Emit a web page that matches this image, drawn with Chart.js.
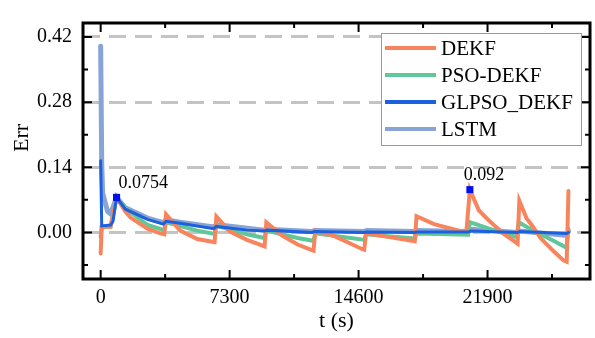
<!DOCTYPE html>
<html>
<head>
<meta charset="utf-8">
<title>Err vs t</title>
<style>
  html, body { margin: 0; padding: 0; background: #fff; }
  #wrap { width: 595px; height: 338px; }
</style>
</head>
<body>
<div id="wrap"><canvas id="errCanvas" width="595" height="338"></canvas></div>
<script src="https://cdn.jsdelivr.net/npm/chart.js@4.4.0/dist/chart.umd.min.js"></script>
<script>
// series names + colours (legend order)
const seriesNames = ['DEKF', 'PSO-DEKF', 'GLPSO_DEKF', 'LSTM'];
const seriesColors = ['#F8845E', '#5FC798', '#1B60DD', '#88A4D7'];

// DEKF
const tDEKF = [0, 60, 560, 900, 1400, 1690, 2650, 3380, 3600,
  3700, 4500, 5470, 6310, 6450,
  6550, 7320, 8280, 9130, 9280,
  9380, 10250, 11150, 11950, 12050,
  12150, 13240, 14370, 14820, 14920,
  15020, 16340, 17630, 17780,
  17880, 18870, 20280, 20700,
  20900, 21400, 21860, 22370, 22820, 23380, 23600,
  23700, 24110, 24400, 24900, 25630, 26200, 26380,
  26480];
const eDEKF = [-0.045, 0.012, 0.012, 0.0754, 0.045, 0.032, 0.008, -0.002, -0.004,
  0.039, 0.004, -0.014, -0.020, -0.021,
  0.034, 0.002, -0.016, -0.028, -0.030,
  0.022, -0.006, -0.026, -0.038, -0.039,
  0.004, -0.008, -0.028, -0.036, -0.037,
  -0.002, -0.010, -0.018, -0.019,
  0.035, 0.018, 0.004, 0.001,
  0.092, 0.048, 0.030, 0.012, -0.003, -0.018, -0.024,
  0.068, 0.030, 0.016, -0.012, -0.040, -0.060, -0.063,
  0.089];

// PSO-DEKF
const tPSO = [0, 60, 560, 900, 1400, 2650, 3600,
  3700, 5470, 6450,
  6550, 8280, 9280,
  9380, 11150, 12050,
  12150, 14370, 14920,
  15020, 17780,
  17880, 20800,
  20900, 21860, 22820, 23550,
  23660, 24400, 25630, 26380,
  26480];
const ePSO = [-0.01, 0.012, 0.012, 0.0754, 0.052, 0.016, 0.005,
  0.022, 0.004, -0.003,
  0.014, -0.004, -0.012,
  0.004, -0.012, -0.018,
  -0.002, -0.013, -0.016,
  -0.004, -0.013,
  -0.002, -0.005,
  0.022, 0.010, -0.002, -0.010,
  0.022, 0.006, -0.018, -0.033,
  0.008];

// GLPSO_DEKF
const tGL = [0, 60, 560, 700, 900, 1400, 2650, 3550, 3700, 4500, 6400, 6550, 8280, 9280, 9400,
  11950, 12100, 14900, 15050, 17780, 17900, 20800, 20950, 23600, 23700, 26380, 26480];
const eGL = [0.154, 0.014, 0.016, 0.024, 0.0754, 0.050, 0.028, 0.018, 0.024, 0.020, 0.008, 0.013, 0.005, 0.003, 0.005,
  0.000, 0.002, 0.000, 0.001, 0.000, 0.001, 0.001, 0.003, 0.000, 0.002, -0.002, 0.000];

// LSTM
const tLSTM = [0, 60, 110, 280, 400, 560, 900, 1400, 2650, 3550, 3700, 4500, 6400, 6550, 8280, 9280, 9400,
  11950, 12100, 14900, 15050, 17780, 17900, 20800, 20950, 23600, 23700, 26380, 26480];
const eLSTM = [0.40, 0.15, 0.085, 0.06, 0.045, 0.040, 0.0754, 0.053, 0.031, 0.021, 0.027, 0.022, 0.012, 0.017, 0.009, 0.005, 0.007,
  0.002, 0.004, 0.002, 0.004, 0.002, 0.004, 0.002, 0.007, 0.000, 0.003, -0.006, 0.002];

// marked points
const markT = [900, 20900];
const markV = [0.0754, 0.092];
const markText = ['0.0754', '0.092'];

// ticks
const xTicks = [0, 3650, 7300, 10950, 14600, 18250, 21900, 25550];
const xLabels = [0, 7300, 14600, 21900];
const yTicks = [-0.07, 0, 0.07, 0.14, 0.21, 0.28, 0.35, 0.42];
const yLabels = [0, 0.14, 0.28, 0.42];

const serif = 'Liberation Serif';
const isYLabel = v => yLabels.some(l => Math.abs(l - v) < 1e-9);

function pts(ts, vs) { return ts.map((t, i) => ({x: t, y: vs[i]})); }

const framePlugin = {
  id: 'frame',
  afterDatasetsDraw(chart) {
    const {ctx, chartArea: a, scales: {x, y}} = chart;
    ctx.save();
    ctx.strokeStyle = '#000';
    ctx.lineWidth = 2;
    ctx.beginPath();
    x.ticks.forEach(t => {
      const px = x.getPixelForValue(t.value);
      const len = xLabels.includes(t.value) ? 9 : 5;
      ctx.moveTo(px, a.bottom); ctx.lineTo(px, a.bottom - len);
      ctx.moveTo(px, a.top); ctx.lineTo(px, a.top + len);
    });
    y.ticks.forEach(t => {
      const py = y.getPixelForValue(t.value);
      const len = isYLabel(t.value) ? 9 : 5;
      ctx.moveTo(a.left, py); ctx.lineTo(a.left + len, py);
      ctx.moveTo(a.right, py); ctx.lineTo(a.right - len, py);
    });
    ctx.stroke();
    ctx.lineWidth = 3;
    ctx.strokeRect(a.left, a.top, a.right - a.left, a.bottom - a.top);
    ctx.restore();
  },
  afterDraw(chart) {
    const {ctx, chartArea: a, scales: {x, y}} = chart;
    ctx.save();
    // marker labels
    ctx.fillStyle = '#000';
    ctx.font = '18px "' + serif + '"';
    ctx.textBaseline = 'middle';
    const dx = [2, -6];
    markT.forEach((t, i) => {
      ctx.textAlign = 'left';
      ctx.fillText(markText[i], x.getPixelForValue(t) + dx[i], y.getPixelForValue(markV[i]) - 14);
    });
    // y title
    ctx.save();
    ctx.translate(22, (a.top + a.bottom) / 2 - 13);
    ctx.rotate(-Math.PI / 2);
    ctx.textAlign = 'center';
    ctx.font = '22px "' + serif + '"';
    ctx.fillText('Err', 0, 0);
    ctx.restore();
    // legend box
    const bx = a.right - 209, by = a.top + 10, bw = 200, bh = 112;
    ctx.fillStyle = '#fff';
    ctx.fillRect(bx, by, bw, bh);
    ctx.strokeStyle = '#9a9a9a';
    ctx.lineWidth = 1;
    ctx.strokeRect(bx + 0.5, by + 0.5, bw, bh);
    ctx.font = '21px "' + serif + '"';
    ctx.textAlign = 'left';
    seriesNames.forEach((name, i) => {
      const ry = by + 15 + i * 27;
      ctx.strokeStyle = seriesColors[i];
      ctx.lineWidth = 4;
      ctx.beginPath();
      ctx.moveTo(bx + 4, ry); ctx.lineTo(bx + 55, ry);
      ctx.stroke();
      ctx.fillStyle = '#000';
      ctx.fillText(name, bx + 60, ry + 1);
    });
    ctx.restore();
  }
};

const ctx = document.getElementById('errCanvas').getContext('2d');
new Chart(ctx, {
  type: 'line',
  data: {
    datasets: [
      {label: 'marks', data: pts(markT, markV), showLine: false, pointStyle: 'rect', pointRadius: 5,
       backgroundColor: '#0010F0', borderColor: '#0010F0', borderWidth: 0, order: -1},
      {label: seriesNames[0], data: pts(tDEKF, eDEKF), borderColor: seriesColors[0], borderWidth: 4, order: 1},
      {label: seriesNames[1], data: pts(tPSO, ePSO), borderColor: seriesColors[1], borderWidth: 4, order: 2},
      {label: seriesNames[2], data: pts(tGL, eGL), borderColor: seriesColors[2], borderWidth: 3, order: 0},
      {label: seriesNames[3], data: pts(tLSTM, eLSTM), borderColor: seriesColors[3], borderWidth: 5, order: 3}
    ]
  },
  options: {
    responsive: false,
    devicePixelRatio: 1,
    animation: false,
    layout: {padding: {top: 7, right: 3, left: 0, bottom: 0}},
    elements: {
      point: {radius: 0},
      line: {tension: 0, fill: false, borderCapStyle: 'round', borderJoinStyle: 'miter'}
    },
    plugins: {legend: {display: false}, tooltip: {enabled: false}},
    scales: {
      x: {
        type: 'linear', min: -1000, max: 27700,
        afterBuildTicks: s => { s.ticks = xTicks.map(v => ({value: v})); },
        afterFit: s => { s.height = 59; },
        grid: {display: false, drawTicks: false},
        border: {display: false},
        ticks: {
          autoSkip: false, maxRotation: 0, padding: 7, color: '#000',
          font: {family: serif, size: 20},
          callback: v => xLabels.includes(v) ? String(v) : ''
        },
        title: {display: true, text: 't (s)', color: '#000', font: {family: serif, size: 22}, padding: {top: 0, bottom: 4}}
      },
      y: {
        min: -0.1, max: 0.45,
        afterBuildTicks: s => { s.ticks = yTicks.map(v => ({value: v})); },
        afterFit: s => { s.width = 83; },
        grid: {
          drawTicks: false, lineWidth: 3,
          color: c => isYLabel(c.tick.value) ? '#C4C4C4' : 'rgba(0,0,0,0)'
        },
        border: {display: false, dash: [17, 9]},
        ticks: {
          autoSkip: false, padding: 11, color: '#000',
          font: {family: serif, size: 20},
          callback: v => isYLabel(v) ? v.toFixed(2) : ''
        }
      }
    }
  },
  plugins: [framePlugin]
});
</script>
</body>
</html>
